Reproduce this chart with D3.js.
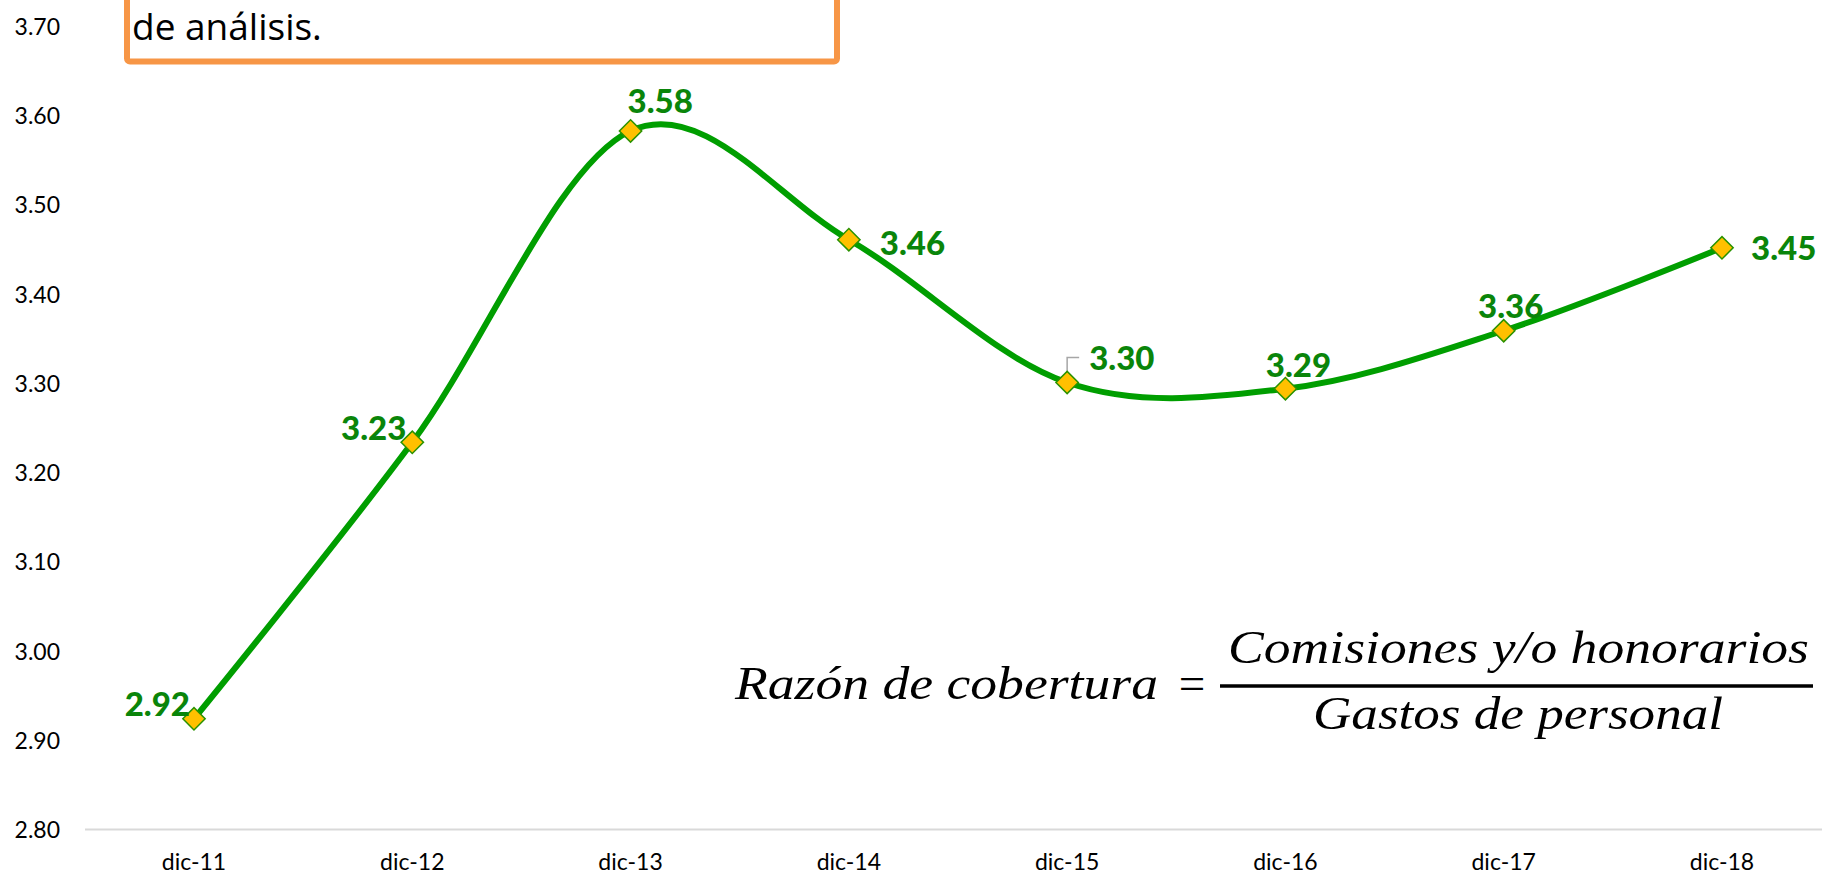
<!DOCTYPE html>
<html>
<head>
<meta charset="utf-8">
<script src="https://d3js.org/d3.v7.min.js"></script>
<style>
  body { margin: 0; background: #fff; }
  svg { display: block; }
</style>
</head>
<body>
<div id="chart"></div>
<script>
// data
const periods = ["dic-11", "dic-12", "dic-13", "dic-14", "dic-15", "dic-16", "dic-17", "dic-18"];
const ratio = [2.924, 3.234, 3.583, 3.461, 3.301, 3.294, 3.359, 3.452];
const yTicks = [2.8, 2.9, 3.0, 3.1, 3.2, 3.3, 3.4, 3.5, 3.6, 3.7];

// label placement (excel style: left / above / right)
const labelAnchor = ["end", "end", "start", "start", "start", "middle", "middle", "start"];
const labelDx = [-4, -6, -3, 31, 22, 13, 7, 29];
const labelDy = [-3, -2, -18, 15, -12, -12, -13, 12];

const W = 1822, H = 874;

var svg = d3.select("#chart").append("svg")
    .attr("width", W)
    .attr("height", H)

var x = d3.scalePoint()
    .domain(periods)
    .range([194, 1722]);

var y = d3.scaleLinear()
    .domain([2.8, 3.7])
    .range([829.5, 26.5]);

// baseline grid
svg.append("line")
    .attr("x1", 85)
    .attr("x2", W)
    .attr("y1", y(2.8))
    .attr("y2", y(2.8))
    .attr("stroke", "#d9d9d9")
    .attr("stroke-width", 2)

// y axis labels
svg.append("g").selectAll("text")
    .data(yTicks)
    .enter().append("text")
        .attr("x", 60)
        .attr("y", d => y(d) + 8.5)
        .attr("text-anchor", "end")
        .style("font-family", "Lato, sans-serif")
        .style("font-size", "23px")
        .style("fill", "#000")
        .text(d => d.toFixed(2))

// x axis labels
svg.append("g").selectAll("text")
    .data(periods)
    .enter().append("text")
        .attr("x", d => x(d))
        .attr("y", 870)
        .attr("text-anchor", "middle")
        .style("font-family", "Lato, sans-serif")
        .style("font-size", "23px")
        .style("fill", "#000")
        .text(d => d)

// smoothed line
var line = d3.line()
    .x((d, i) => x(periods[i]))
    .y(d => y(d))
    .curve(d3.curveCardinal.tension(0));

svg.append("path")
    .datum(ratio)
    .attr("d", line)
    .attr("fill", "none")
    .attr("stroke", "#009e00")
    .attr("stroke-width", 6)

// leader line on dic-15 label
var lx = x(periods[4]), ly = y(ratio[4]);
svg.append("path")
    .attr("d", `M${lx},${ly} V${ly - 25} H${lx + 12}`)
    .attr("fill", "none")
    .attr("stroke", "#a6a6a6")
    .attr("stroke-width", 1.5)

// diamond markers
svg.append("g").selectAll("path")
    .data(ratio)
    .enter().append("path")
        .attr("d", d3.symbol().type(d3.symbolSquare).size(250))
        .attr("transform", (d, i) => `translate(${x(periods[i])},${y(d)}) rotate(45)`)
        .attr("fill", "#ffc000")
        .attr("stroke", "#2a9200")
        .attr("stroke-width", 1.5)

// data labels
svg.append("g").selectAll("text")
    .data(ratio)
    .enter().append("text")
        .attr("x", (d, i) => x(periods[i]) + labelDx[i])
        .attr("y", (d, i) => y(d) + labelDy[i])
        .attr("text-anchor", (d, i) => labelAnchor[i])
        .style("font-family", "Lato, sans-serif")
        .style("font-weight", "900")
        .style("font-size", "33px")
        .style("fill", "#0a850a")
        .text(d => d.toFixed(2))

// note box (cut by the top edge)
svg.append("rect")
    .attr("x", 127)
    .attr("y", -20)
    .attr("width", 710)
    .attr("height", 81.5)
    .attr("rx", 3)
    .attr("fill", "#fff")
    .attr("stroke", "#f79646")
    .attr("stroke-width", 6)

svg.append("text")
    .attr("x", 132)
    .attr("y", 40)
    .style("font-family", "'Open Sans', sans-serif")
    .style("font-size", "37px")
    .style("fill", "#000")
    .text("de análisis.")

// formula
var fStyle = function(sel) {
    sel.style("font-family", "'Liberation Serif', serif")
        .style("font-style", "italic")
        .style("font-size", "47px")
        .style("fill", "#000")
}

svg.append("text")
    .attr("x", 735)
    .attr("y", 699)
    .attr("textLength", 423)
    .attr("lengthAdjust", "spacingAndGlyphs")
    .call(fStyle)
    .text("Razón de cobertura")

svg.append("text")
    .attr("x", 1192)
    .attr("y", 699)
    .attr("text-anchor", "middle")
    .call(fStyle)
    .style("font-style", "normal")
    .text("=")

svg.append("line")
    .attr("x1", 1220)
    .attr("x2", 1813)
    .attr("y1", 686)
    .attr("y2", 686)
    .attr("stroke", "#000")
    .attr("stroke-width", 3.5)

svg.append("text")
    .attr("x", 1228)
    .attr("y", 663)
    .attr("textLength", 581)
    .attr("lengthAdjust", "spacingAndGlyphs")
    .call(fStyle)
    .text("Comisiones y/o honorarios")

svg.append("text")
    .attr("x", 1313)
    .attr("y", 729)
    .attr("textLength", 410)
    .attr("lengthAdjust", "spacingAndGlyphs")
    .call(fStyle)
    .text("Gastos de personal")
</script>
</body>
</html>
